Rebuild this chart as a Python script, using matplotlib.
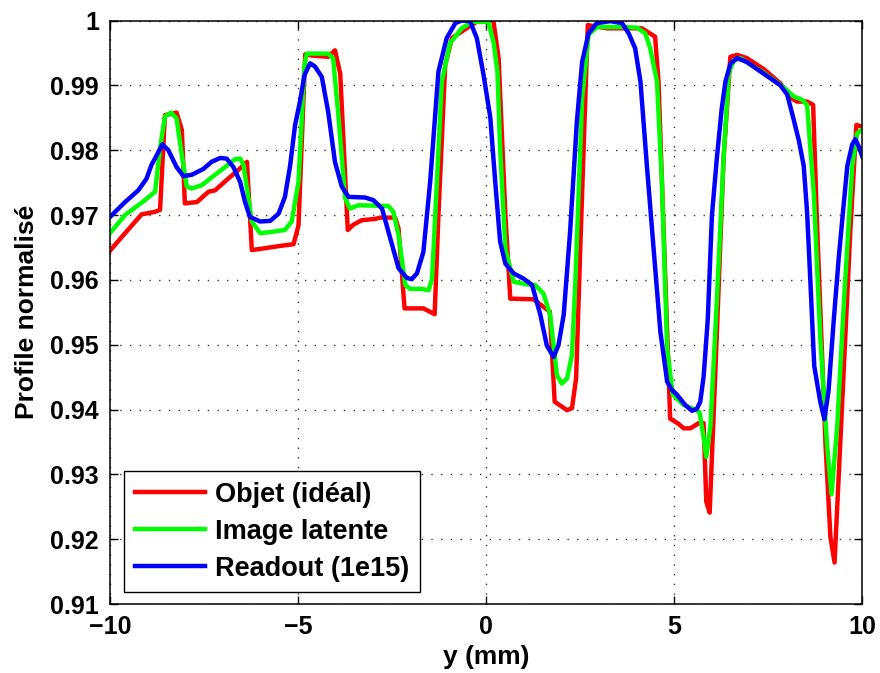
import matplotlib
matplotlib.use('Agg')
import matplotlib.pyplot as plt

plt.rcParams['font.family'] = ['Liberation Sans', 'DejaVu Sans']
plt.rcParams['font.weight'] = 'bold'

# Objet (idéal)
red_x = [-10.0, -9.69, -9.16, -8.80, -8.67, -8.54, -8.23, -8.09, -8.01, -7.69, -7.38, -7.21,
         -6.86, -6.54, -6.36, -6.23, -5.97, -5.52, -5.12, -4.99, -4.81, -4.64, -4.20, -4.02,
         -3.88, -3.68, -3.53, -3.31, -2.95, -2.82, -2.42, -2.33, -2.17, -1.67, -1.37, -1.27,
         -1.09, -0.91, -0.47, -0.20, 0.19, 0.33, 0.51, 0.64, 1.26, 1.69, 1.82, 2.15, 2.28,
         2.39, 2.50, 2.70, 3.21, 4.14, 4.49, 4.58, 4.89, 5.11, 5.25, 5.43, 5.65, 5.78, 5.85,
         5.94, 6.09, 6.31, 6.49, 6.67, 6.93, 7.38, 7.82, 8.09, 8.26, 8.53, 8.69, 8.80, 9.02,
         9.15, 9.26, 9.41, 9.68, 9.84, 10.0]
red_y = [0.9645, 0.9666, 0.9701, 0.9705, 0.9708, 0.9854, 0.9858, 0.9831, 0.9718, 0.9720,
         0.9736, 0.9738, 0.9756, 0.9772, 0.9782, 0.9646, 0.9648, 0.9652, 0.9655, 0.9684,
         0.9948, 0.9946, 0.9944, 0.9954, 0.9918, 0.9677, 0.9685, 0.9692, 0.9694, 0.9696,
         0.9696, 0.9679, 0.9556, 0.9556, 0.9547, 0.9700, 0.9931, 0.9973, 0.9990, 1.0,
         1.0, 0.9942, 0.9700, 0.9571, 0.9570, 0.9551, 0.9412, 0.9399, 0.9402, 0.9448,
         0.9648, 0.9993, 0.9988, 0.9988, 0.9975, 0.9906, 0.9386, 0.9378, 0.9371, 0.9371,
         0.9379, 0.9379, 0.9258, 0.9241, 0.9456, 0.9787, 0.9944, 0.9947, 0.9942, 0.9925,
         0.9903, 0.9881, 0.9875, 0.9875, 0.9870, 0.9677, 0.9346, 0.9203, 0.9164, 0.9346,
         0.9677, 0.9839, 0.9836]

# Image latente
green_x = [-10.0, -9.60, -9.07, -8.80, -8.67, -8.54, -8.38, -8.23, -8.09, -7.96, -7.83,
           -7.56, -7.21, -6.94, -6.68, -6.54, -6.45, -6.23, -6.01, -5.70, -5.35, -5.17,
           -4.99, -4.83, -4.77, -4.20, -4.07, -3.93, -3.75, -3.62, -3.40, -2.60, -2.47,
           -2.33, -2.15, -2.02, -1.71, -1.53, -1.44, -1.31, -1.18, -0.96, -0.65, -0.38,
           0.06, 0.20, 0.30, 0.37, 0.51, 0.73, 1.08, 1.30, 1.52, 1.70, 1.88, 2.01, 2.15,
           2.28, 2.37, 2.55, 2.72, 2.94, 3.65, 4.01, 4.23, 4.36, 4.54, 4.67, 4.81, 4.96,
           5.25, 5.51, 5.67, 5.78, 5.85, 5.96, 6.13, 6.31, 6.45, 6.58, 6.76, 7.38, 7.91,
           8.17, 8.39, 8.53, 8.71, 8.88, 9.06, 9.18, 9.33, 9.51, 9.73, 9.86, 10.0]
green_y = [0.9672, 0.9700, 0.9723, 0.9736, 0.9803, 0.9852, 0.9858, 0.9849, 0.9792, 0.9744,
           0.9741, 0.9746, 0.9762, 0.9774, 0.9786, 0.9787, 0.9777, 0.9690, 0.9672, 0.9674,
           0.9677, 0.9690, 0.9751, 0.9931, 0.9949, 0.9949, 0.9942, 0.9854, 0.9726, 0.9710,
           0.9715, 0.9714, 0.9705, 0.9669, 0.9592, 0.9586, 0.9586, 0.9584, 0.9602, 0.9751,
           0.9906, 0.9965, 0.9988, 0.9998, 0.9998, 0.9965, 0.9920, 0.9803, 0.9648, 0.9597,
           0.9593, 0.9592, 0.9579, 0.9546, 0.9453, 0.9440, 0.9448, 0.9484, 0.9597, 0.9880,
           0.9978, 0.9990, 0.9990, 0.9989, 0.9980, 0.9957, 0.9906, 0.9751, 0.9494, 0.9423,
           0.9407, 0.9401, 0.9396, 0.9357, 0.9327, 0.9374, 0.9567, 0.9787, 0.9919, 0.9939,
           0.9942, 0.9919, 0.9897, 0.9883, 0.9878, 0.9870, 0.9732, 0.9511, 0.9346, 0.9269,
           0.9374, 0.9567, 0.9776, 0.9826, 0.9832]

# Readout (1e15)
blue_x = [-10.0, -9.60, -9.25, -9.03, -8.90, -8.76, -8.61, -8.45, -8.23, -8.05, -7.83,
          -7.52, -7.30, -7.07, -6.90, -6.72, -6.54, -6.41, -6.28, -6.01, -5.74, -5.52,
          -5.35, -5.21, -5.08, -4.95, -4.83, -4.68, -4.55, -4.37, -4.20, -4.02, -3.84,
          -3.66, -3.22, -3.00, -2.77, -2.55, -2.33, -2.11, -1.98, -1.84, -1.67, -1.49,
          -1.27, -1.05, -0.82, -0.65, -0.43, -0.25, -0.07, 0.11, 0.24, 0.37, 0.51, 0.73,
          0.99, 1.22, 1.44, 1.61, 1.79, 1.92, 2.06, 2.23, 2.41, 2.55, 2.72, 2.94, 3.30,
          3.61, 3.79, 3.96, 4.10, 4.27, 4.45, 4.63, 4.81, 4.94, 5.07, 5.29, 5.47, 5.60,
          5.69, 5.78, 5.89, 6.00, 6.13, 6.26, 6.36, 6.49, 6.67, 6.93, 7.20, 7.55, 7.82,
          8.00, 8.17, 8.31, 8.44, 8.53, 8.62, 8.72, 8.88, 8.99, 9.10, 9.24, 9.37, 9.51,
          9.60, 9.73, 9.81, 9.90, 10.0]
blue_y = [0.9697, 0.9720, 0.9738, 0.9756, 0.9777, 0.9792, 0.9809, 0.9800, 0.9774, 0.9760,
          0.9762, 0.9771, 0.9782, 0.9788, 0.9787, 0.9774, 0.9751, 0.9720, 0.9697, 0.9690,
          0.9691, 0.9702, 0.9728, 0.9777, 0.9839, 0.9875, 0.9916, 0.9934, 0.9929, 0.9913,
          0.9859, 0.9782, 0.9744, 0.9728, 0.9727, 0.9723, 0.9710, 0.9664, 0.9618, 0.9603,
          0.9601, 0.9610, 0.9643, 0.9751, 0.9921, 0.9973, 0.9996, 1.0, 0.9999, 0.9973,
          0.9916, 0.9850, 0.9751, 0.9659, 0.9625, 0.9610, 0.9602, 0.9592, 0.9546, 0.9499,
          0.9481, 0.9499, 0.9546, 0.9674, 0.9844, 0.9936, 0.9980, 0.9996, 0.9999, 0.9996,
          0.9980, 0.9957, 0.9906, 0.9777, 0.9648, 0.9520, 0.9443, 0.9430, 0.9423, 0.9407,
          0.9398, 0.9401, 0.9412, 0.9451, 0.9539, 0.9699, 0.9787, 0.9864, 0.9906, 0.9933,
          0.9942, 0.9936, 0.9925, 0.9911, 0.9900, 0.9886, 0.9848, 0.9815, 0.9776, 0.9704,
          0.9594, 0.9467, 0.9412, 0.9385, 0.9429, 0.9539, 0.9633, 0.9721, 0.9776, 0.9809,
          0.9817, 0.9806, 0.9790]

labels = ['Objet (idéal)', 'Image latente', 'Readout (1e15)']
xticks = [-10, -5, 0, 5, 10]
yticks = [0.91, 0.92, 0.93, 0.94, 0.95, 0.96, 0.97, 0.98, 0.99, 1.0]
ytick_labels = ['0.91', '0.92', '0.93', '0.94', '0.95', '0.96', '0.97', '0.98', '0.99', '1']

fig = plt.figure(figsize=(8.8, 6.73), dpi=100)
ax = fig.add_axes([0.125, 0.1025, 0.855, 0.867])

ax.plot(red_x, red_y, color=(1, 0, 0), lw=3.2, label=labels[0], solid_joinstyle='round')
ax.plot(green_x, green_y, color=(0, 1, 0), lw=3.2, label=labels[1], solid_joinstyle='round')
ax.plot(blue_x, blue_y, color=(0, 0, 1), lw=3.2, label=labels[2], solid_joinstyle='round')

ax.set_xlim(-10, 10)
ax.set_ylim(0.91, 1.0)
ax.set_xticks(xticks)
ax.set_yticks(yticks)
ax.set_yticklabels(ytick_labels)
ax.tick_params(direction='in', length=6, width=1, top=True, right=True,
               labelsize=18, pad=8)
for s in ax.spines.values():
    s.set_linewidth(1.1)
ax.grid(True, color='k', linestyle=(0, (1, 6)), linewidth=1, alpha=0.8)

ax.set_xlabel('y (mm)', fontsize=19, fontweight='bold', labelpad=4)
ax.set_ylabel('Profile normalisé', fontsize=19, fontweight='bold', labelpad=8)

leg = ax.legend(loc='lower left', bbox_to_anchor=(0.0186, 0.02), borderaxespad=0,
                fancybox=False, edgecolor='k', framealpha=1, fontsize=19.5,
                handlelength=2.6, handletextpad=0.35, borderpad=0.4, labelspacing=0.4)
leg.get_frame().set_linewidth(1)

fig.savefig('out.png', dpi=100)
